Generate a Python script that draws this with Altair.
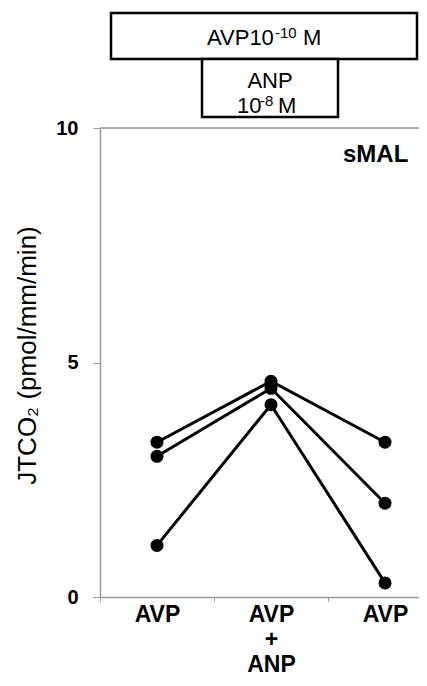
import altair as alt
import pandas as pd

# ---- data ----
phases = ["AVP (before)", "AVP + ANP", "AVP (after)"]
phase_labels = [["AVP"], ["AVP", "+", "ANP"], ["AVP"]]
tubules = ["tubule 1", "tubule 2", "tubule 3"]
jtco2_t1 = [3.3, 4.6, 3.3]
jtco2_t2 = [3.0, 4.45, 2.0]
jtco2_t3 = [1.1, 4.1, 0.3]
y_ticks = [0, 5, 10]

rows = []
for name, vals in zip(tubules, [jtco2_t1, jtco2_t2, jtco2_t3]):
    for ph, v in zip(phases, vals):
        rows.append({"tubule": name, "phase": ph, "jtco2": v})
df = pd.DataFrame(rows)

# label expression built from the label lists ('' for the extra extent tick)
def lab(lines):
    return "[" + ",".join("'" + s + "'" for s in lines) + "]"
expr = "''"
for ph, lines in reversed(list(zip(phases, phase_labels))):
    expr = f"datum.value == '{ph}' ? {lab(lines)} : ({expr})"

FONT = "Liberation Sans"
GRAY = "#999999"

W = 319
x_enc = alt.X(
    "phase:N",
    sort=phases,
    scale=alt.Scale(type="band", domain=phases, range=[0, 342], paddingInner=0, paddingOuter=0),
    axis=alt.Axis(
        title=None, labelAngle=0, labelFontSize=23, labelFontWeight="bold",
        labelColor="black", labelFont=FONT, tickSize=4, tickColor=GRAY,
        domainColor=GRAY, domainWidth=1.5, labelPadding=2, tickBand="extent",
        labelLineHeight=25, labelExpr=expr,
    ),
)
y_enc = alt.Y(
    "jtco2:Q",
    scale=alt.Scale(domain=[0, 10], nice=False),
    axis=alt.Axis(
        values=y_ticks, title="JTCO\u2082 (pmol/mm/min)", grid=False,
        labelFontSize=20, labelFontWeight="bold", labelColor="black", labelFont=FONT,
        tickSize=7, tickColor=GRAY, domainColor=GRAY, domainWidth=1.5, labelPadding=15,
        titleFontSize=26, titleFontWeight="normal", titleFont=FONT, titleColor="black",
        titlePadding=15, titleY=227,
    ),
)

base = alt.Chart(df)
lines = base.mark_line(color="black", strokeWidth=3).encode(x=x_enc, y=y_enc, detail="tubule:N")
points = base.mark_circle(color="black", size=170, opacity=1).encode(x=x_enc, y=y_enc, detail="tubule:N")

one = pd.DataFrame({"k": [0]})
top_rule = alt.Chart(one).mark_rule(color=GRAY, strokeWidth=1.5).encode(
    y=alt.datum(10), x=alt.value(0), x2=alt.value(W)
)
box1 = alt.Chart(one).mark_rect(fill="white", stroke="black", strokeWidth=2.5).encode(
    x=alt.value(11), x2=alt.value(317), y=alt.value(-115), y2=alt.value(-69)
)
box2 = alt.Chart(one).mark_rect(fill="white", stroke="black", strokeWidth=2.5).encode(
    x=alt.value(102), x2=alt.value(238), y=alt.value(-69), y2=alt.value(-11)
)

def txt(t, x, y, size, weight="normal", align="left"):
    return alt.Chart(one).mark_text(
        text=t, fontSize=size, fontWeight=weight, font=FONT, color="black",
        align=align, baseline="alphabetic",
    ).encode(x=alt.value(x), y=alt.value(y))

texts = [
    txt("AVP10", 107, -83, 22),
    txt("-10", 175, -90, 15),
    txt("M", 203, -83, 22),
    txt("ANP", 170, -40, 22, align="center"),
    txt("10", 137, -15, 22),
    txt("-8", 160, -22, 15),
    txt("M", 178, -15, 22),
    txt("sMAL", 243, 34, 24, weight="bold"),
]

chart = alt.layer(top_rule, lines, points, box1, box2, *texts).properties(
    width=W, height=469,
    autosize=alt.AutoSizeParams(type="none"),
    padding={"left": 92, "top": 120, "right": 0, "bottom": 81},
).configure_view(stroke=None).configure(font=FONT)

chart.save("out.html", embed_options={"renderer": "svg", "actions": False})
